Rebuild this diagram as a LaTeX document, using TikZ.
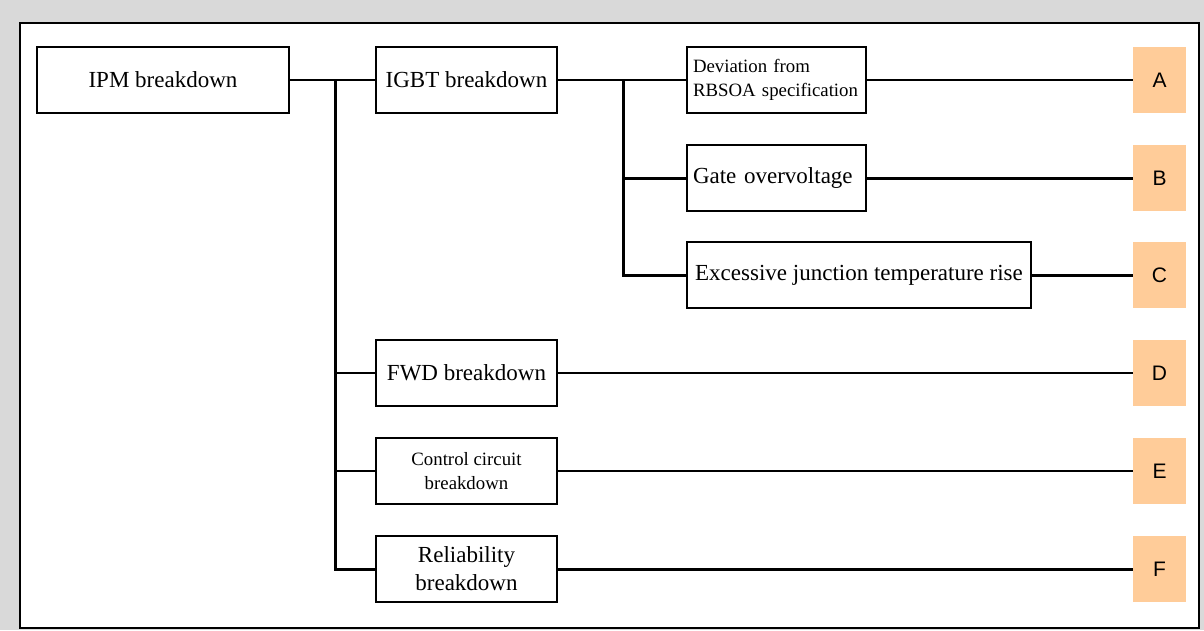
\documentclass[tikz,border=0pt]{standalone}
\usepackage{fontspec}
\setmainfont{Liberation Serif}
\newfontfamily\tagfont{Liberation Sans}
\usepackage{tikz}
\usetikzlibrary{positioning}
\definecolor{peach}{RGB}{255,204,153}
\definecolor{framegray}{RGB}{217,217,217}

\begin{document}
\begin{tikzpicture}[x=1pt, y=-1pt, every node/.style={font=\fontsize{23}{28}\selectfont},
    box/.style={rectangle, draw, line width=2.6pt, minimum height=66pt, inner sep=4pt},
    small/.style={font=\fontsize{18.8}{24}\selectfont},
    tag/.style={rectangle, fill=peach, minimum width=53pt, minimum height=66pt, font=\tagfont\fontsize{21}{24}\selectfont},
    link/.style={line width=2.2pt}, heavy/.style={line width=3pt}]
    \useasboundingbox (0,0) rectangle (1204,630);
    \fill[framegray] (0,0) rectangle (1204,630);
    \draw[fill=white, line width=1.6pt] (20,23) rectangle (1199,628);

    % left column
    \node[box, minimum width=252pt] (ipm) at (163,80) {IPM breakdown};
    \node[box, minimum width=181pt] (igbt) at (466.5,80) {IGBT breakdown};
    \node[box, minimum width=181pt] (fwd) at (466.5,373) {FWD breakdown};
    \node[box, small, minimum width=181pt, align=center] (ctrl) at (466.5,471) {Control circuit\\breakdown};
    \node[box, minimum width=181pt, align=center] (rel) at (466.5,569) {Reliability\\breakdown};

    % IGBT failure causes
    \node[box, small, text width=167pt, inner xsep=6pt, align=left] (rbsoa) at (776.5,80) {Deviation from\\RBSOA specification};
    \node[box, text width=167pt, inner xsep=6pt, align=left] (gate) at (776.5,178) {Gate overvoltage};
    \node[box, minimum width=344pt] (temp) at (859,275) {Excessive junction temperature rise};

    % result tags
    \foreach \name/\yy in {A/80, B/178, C/275, D/373, E/471, F/569}
        \node[tag] (tag\name) at (1159.5,\yy) {\name};

    \coordinate (trunk) at (335,80);
    \coordinate (sub) at (623,80);

    \draw[link] (ipm.east) -- (igbt.west);
    \draw[heavy] (trunk) |- (rel.west);
    \draw[link] (trunk |- fwd.west) -- (fwd.west);
    \draw[link] (trunk |- ctrl.west) -- (ctrl.west);
    \draw[link] (igbt.east) -- (rbsoa.west);
    \draw[heavy] (sub) |- (gate.west);
    \draw[heavy] (sub) |- (temp.west);

    \draw[link] (rbsoa.east) -- (tagA.west);
    \draw[heavy] (gate.east) -- (tagB.west);
    \draw[heavy] (temp.east) -- (tagC.west);
    \draw[link] (fwd.east) -- (tagD.west);
    \draw[link] (ctrl.east) -- (tagE.west);
    \draw[heavy] (rel.east) -- (tagF.west);
\end{tikzpicture}
\end{document}
